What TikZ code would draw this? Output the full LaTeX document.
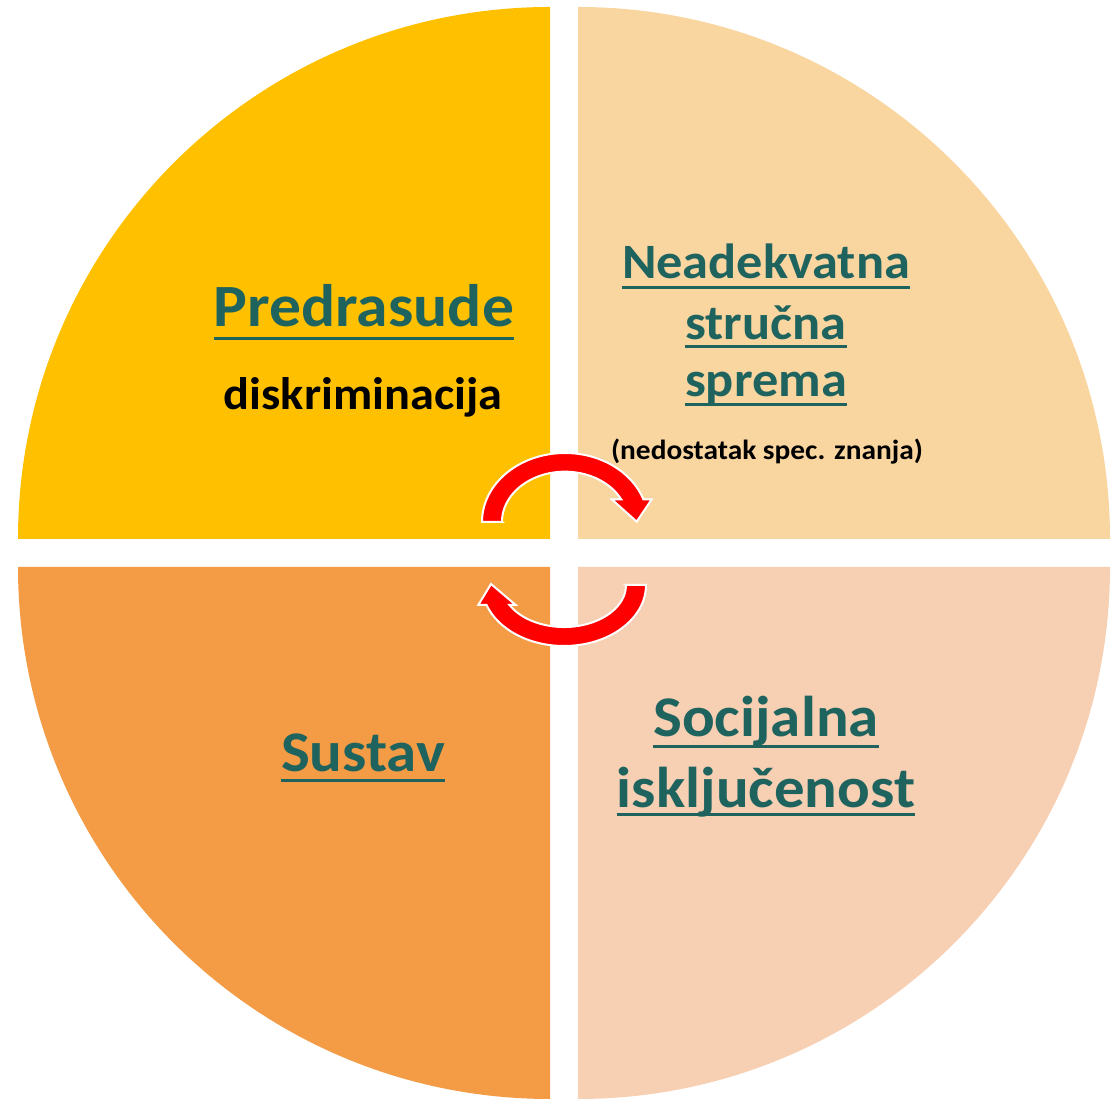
\documentclass[tikz,border=0pt]{standalone}
\usepackage{fontspec}
\setmainfont{Carlito}[FakeStretch=1.06]
\definecolor{goldq}{HTML}{FFC000}
\definecolor{peachq}{HTML}{F9D5A0}
\definecolor{orangeq}{HTML}{F39B45}
\definecolor{roseq}{HTML}{F7CFB3}
\definecolor{tealtxt}{HTML}{1F635F}
\tikzset{
	title/.style={inner sep=0pt, anchor=base, text=tealtxt, font=\bfseries\fontsize{57.5}{62}\selectfont},
	block/.style={inner sep=0pt, anchor=base, text=tealtxt, font=\bfseries\fontsize{49.4}{54}\selectfont},
	note/.style={inner sep=0pt, anchor=base, text=black, font=\bfseries},
	uline/.style={line width=3pt, color=tealtxt},
	turn/.style={fill=red, draw=white, line width=2pt, line join=miter}
}

\begin{document}
\begin{tikzpicture}[x=1pt, y=1pt]
		%%%%% START %%%%%
		\useasboundingbox (0, 0) rectangle (1115, 1099);
		
		% quadrants
		\fill[goldq] (550, 560) -- (18, 560) arc (180:90:532) -- cycle;
		\fill[peachq] (578, 560) -- (578, 1092) arc (90:0:532) -- cycle;
		\fill[orangeq] (550, 532) -- (18, 532) arc (180:270:532) -- cycle;
		\fill[roseq] (578, 532) -- (1110, 532) arc (0:-90:532) -- cycle;
		
		% texts
		\node[title, font=\bfseries\fontsize{60}{64}\selectfont] (pred) at (364, 772.3) {Predrasude};
		\draw[uline] ([yshift=-12pt]pred.base west) -- ([yshift=-12pt]pred.base east);
		\node[note, font=\bfseries\fontsize{45.6}{50}\selectfont] (disk) at (363, 689) {diskriminacija};
		
		\node[block] (nead) at (766, 820.7) {Neadekvatna};
		\draw[uline] ([yshift=-9pt]nead.base west) -- ([yshift=-9pt]nead.base east);
		\node[block] (stru) at (766, 759) {stručna};
		\draw[uline] ([yshift=-7pt]stru.base west) -- ([yshift=-7pt]stru.base east);
		\node[block] (spre) at (766, 702.3) {sprema};
		\draw[uline] ([yshift=-8pt]spre.base west) -- ([yshift=-8pt]spre.base east);
		\node[note, font=\bfseries\fontsize{27.7}{32}\selectfont] (nedo) at (767, 639) {(nedostatak spec. znanja)};
		
		\node[title] (sust) at (363, 327.3) {Sustav};
		\draw[uline] ([yshift=-9pt]sust.base west) -- ([yshift=-9pt]sust.base east);
		
		\node[title] (soci) at (766, 362.3) {Socijalna};
		\draw[uline] ([yshift=-10pt]soci.base west) -- ([yshift=-10pt]soci.base east);
		\node[title] (iskl) at (766, 291) {isključenost};
		\draw[uline] ([yshift=-7pt]iskl.base west) -- ([yshift=-7pt]iskl.base east);
		
		% turning arrows
		\draw[turn] (502, 577) -- (482, 577) arc[start angle=180, end angle=19.2, x radius=83, y radius=69]
			-- (651.7, 599.7) -- (636.7, 577.3) -- (611.7, 599.7) -- (621.2, 599.7)
			arc[start angle=26.8, end angle=180, x radius=63, y radius=50.3] -- cycle;
		\draw[turn] (626, 514) -- (646, 514) arc[start angle=0, end angle=-160.9, x radius=82, y radius=61]
			-- (478.3, 494) -- (491, 515) -- (515.7, 494) -- (509.5, 494)
			arc[start angle=-151.6, end angle=0, x radius=62, y radius=42] -- cycle;
		
		%%%%% END %%%%%
	\end{tikzpicture}
\end{document}
